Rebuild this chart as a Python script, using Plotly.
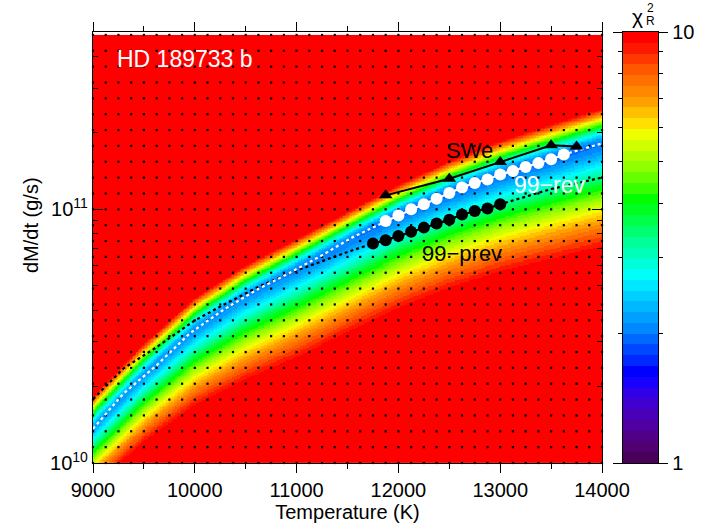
import numpy as np
import plotly.graph_objects as go

FONT = "Liberation Sans, Arial, Helvetica, sans-serif"

# ---- model grid of the fit: 125 K steps in temperature, 16 steps per decade in dM/dt
grid_T = np.arange(9000, 14001, 125)
grid_logM = 10 + np.arange(0, 28) / 16.0

# ---- reduced chi^2 valley: location of the minimum, depth, and distance (dex)
#      above / below the minimum where chi^2_R reaches 10
valley_T = [9000, 9500, 10000, 10500, 11000, 11500, 12000, 12500, 13000, 13500, 14000]
valley_logM = [10.135, 10.343, 10.525, 10.656, 10.762, 10.870, 10.976, 11.064, 11.137, 11.197, 11.255]
valley_chi2 = [2.2, 2.15, 2.1, 2.1, 2.05, 2.0, 1.95, 1.95, 1.95, 1.95, 2.0]
width_above = [0.13, 0.13, 0.128, 0.126, 0.124, 0.122, 0.122, 0.128, 0.134, 0.14, 0.145]
width_below = [0.24, 0.27, 0.31, 0.34, 0.36, 0.37, 0.38, 0.39, 0.40, 0.41, 0.42]

# ---- published solutions (T in K, dM/dt in g/s)
swe_T = [11875, 12500, 13000, 13500, 13750]
swe_M = [1.135e11, 1.32e11, 1.535e11, 1.79e11, 1.77e11]

rev_T = list(range(11875, 13626, 125))
rev_M = [8.99e10, 9.46e10, 1.0e11, 1.047e11, 1.10e11, 1.159e11, 1.219e11, 1.271e11,
         1.312e11, 1.371e11, 1.416e11, 1.469e11, 1.521e11, 1.574e11, 1.644e11]
rev_ext_lo_T = [9000, 9300, 9625, 9950, 10275, 10600, 10925, 11250, 11550]
rev_ext_lo_M = [1.365e10, 1.879e10, 2.427e10, 3.243e10, 4.0e10, 4.797e10, 5.598e10, 6.592e10, 7.762e10]
rev_ext_hi_T = [14000]
rev_ext_hi_M = [1.82e11]

prev_T = list(range(11750, 13001, 125))
prev_M = [7.33e10, 7.55e10, 7.85e10, 8.15e10, 8.47e10, 8.79e10, 9.10e10, 9.55e10,
          9.84e10, 1.007e11, 1.047e11]
prev_ext_lo_T = [9000, 9300, 9625, 10000, 10275, 10600, 10925, 11250, 11500]
prev_ext_lo_M = [1.786e10, 2.36e10, 2.864e10, 3.648e10, 4.188e10, 4.887e10, 5.598e10, 6.266e10, 6.792e10]
prev_ext_hi_T = [13500, 14000]
prev_ext_hi_M = [1.202e11, 1.334e11]

# ---- colour bands of the chi^2_R scale, from 1 (bottom) to 10 (top)
band_colors = [
    "#48005a", "#500070", "#500088", "#5000a0", "#4800b8", "#4000d0", "#3000e8", "#1800ff",
    "#0000ff", "#0028ff", "#0048ff", "#0068ff", "#0088ff", "#00a0ff", "#00b8ff", "#00d0ff",
    "#00e8ff", "#00fff8", "#00ffd8", "#00ffb8", "#00ff98", "#00ff70", "#00ff48", "#00ff20",
    "#00ff00", "#38ff00", "#68ff00", "#90ff00", "#b0ff00", "#d0ff00", "#f0ff00", "#ffe000",
    "#ffc000", "#ffa000", "#ff8800", "#ff7000", "#ff5800", "#ff3800", "#ff1800", "#ff0000",
]
nb = len(band_colors)
colorscale = []
for i, col in enumerate(band_colors):
    colorscale.append([i / nb, col])
    colorscale.append([(i + 1) / nb, col])

# ---- chi^2_R surface over the fitted region
T_edges = np.linspace(9000, 14000, 341)
L_edges = np.linspace(10.0, grid_logM[-1], 301)
Tc = 0.5 * (T_edges[1:] + T_edges[:-1])
Lc = 0.5 * (L_edges[1:] + L_edges[:-1])
centre = np.interp(Tc, valley_T, valley_logM)
cmin = np.interp(Tc, valley_T, valley_chi2)
wa = np.interp(Tc, valley_T, width_above)
wb = np.interp(Tc, valley_T, width_below)
u = Lc[:, None] - centre[None, :]
rise = np.where(u >= 0, (u / wa[None, :]) ** 2, (np.abs(u) / wb[None, :]) ** 1.5)
chi2 = cmin[None, :] + (10.0 - cmin[None, :]) * rise
zlog = np.clip(np.log10(chi2), 0, 1.05)

fig = go.Figure()

fig.add_trace(go.Heatmap(
    x=T_edges, y=10 ** L_edges, z=zlog, zmin=0, zmax=1,
    colorscale=colorscale, showscale=False, hoverinfo="skip",
    xaxis="x", yaxis="y",
))

# model grid points
gT, gL = np.meshgrid(grid_T, grid_logM)
fig.add_trace(go.Scatter(
    x=gT.ravel(), y=10 ** gL.ravel(), mode="markers",
    marker=dict(symbol="square", size=2.2, color="black", line=dict(width=0)),
    cliponaxis=False, hoverinfo="skip", showlegend=False,
))

# dotted extensions of the 99 solutions
fig.add_trace(go.Scatter(
    x=prev_ext_lo_T + prev_T + prev_ext_hi_T, y=prev_ext_lo_M + prev_M + prev_ext_hi_M,
    mode="lines", line=dict(color="black", width=2.2, dash="dot"),
    hoverinfo="skip", showlegend=False,
))
fig.add_trace(go.Scatter(
    x=rev_ext_lo_T + rev_T + rev_ext_hi_T, y=rev_ext_lo_M + rev_M + rev_ext_hi_M,
    mode="lines", line=dict(color="white", width=2.2, dash="dot"),
    hoverinfo="skip", showlegend=False,
))

# 99-prev
fig.add_trace(go.Scatter(
    x=prev_T, y=prev_M, mode="lines+markers",
    line=dict(color="black", width=2),
    marker=dict(symbol="circle", size=12, color="black", line=dict(width=0)),
    hoverinfo="skip", showlegend=False,
))
# 99-rev
fig.add_trace(go.Scatter(
    x=rev_T, y=rev_M, mode="lines+markers",
    line=dict(color="white", width=2),
    marker=dict(symbol="circle", size=12, color="white", line=dict(width=0)),
    hoverinfo="skip", showlegend=False,
))
# SWe
fig.add_trace(go.Scatter(
    x=swe_T, y=swe_M, mode="lines+markers",
    line=dict(color="black", width=2),
    marker=dict(symbol="triangle-up", size=12, color="black", line=dict(width=0)),
    hoverinfo="skip", showlegend=False,
))

# colour scale drawn as its own panel
cb_z = [[(i + 0.5) / nb] for i in range(nb)]
fig.add_trace(go.Heatmap(
    x=[0, 1], y=10 ** (np.arange(nb + 1) / nb), z=cb_z, zmin=0, zmax=1,
    colorscale=colorscale, showscale=False, hoverinfo="skip",
    xaxis="x2", yaxis="y2",
))

x_major = list(range(9000, 14001, 1000))
x_minor = list(range(9500, 14000, 1000))
y_minor = [m * 1e10 for m in range(2, 10)] + [m * 1e11 for m in range(2, 5)]

axis_font = dict(family=FONT, size=20, color="black")

fig.update_layout(
    width=724, height=530,
    margin=dict(l=93, r=66, t=32, b=67),
    paper_bgcolor="white", plot_bgcolor="white",
    font=dict(family=FONT, color="black"),
    showlegend=False,
    xaxis=dict(
        domain=[0, 509 / 565], range=[9000, 14000], anchor="y",
        tickvals=x_major, ticktext=[str(v) for v in x_major],
        ticks="outside", ticklen=9, tickwidth=1.3, tickcolor="black",
        minor=dict(tickvals=x_minor, ticks="outside", ticklen=5, tickwidth=1.3, tickcolor="black"),
        showline=True, linecolor="black", linewidth=1.3, mirror="ticks",
        showgrid=False, zeroline=False, tickfont=axis_font,
        title=dict(text="Temperature (K)", font=axis_font, standoff=0),
    ),
    yaxis=dict(
        type="log", range=[10, 11.699], anchor="x",
        tickvals=[1e10, 1e11], ticktext=["10<sup>10</sup>", "10<sup>11</sup>"],
        ticks="inside", ticklen=10, tickwidth=1.3, tickcolor="black",
        minor=dict(tickvals=y_minor, ticks="inside", ticklen=5, tickwidth=1.3, tickcolor="black"),
        showline=True, linecolor="black", linewidth=1.3, mirror="ticks",
        showgrid=False, zeroline=False, tickfont=axis_font,
    ),
    xaxis2=dict(
        domain=[530 / 565, 1], range=[0, 1], anchor="y2",
        showticklabels=False, ticks="", showgrid=False, zeroline=False,
        showline=True, linecolor="black", linewidth=1.3, mirror=True,
    ),
    yaxis2=dict(
        type="log", range=[0, 1], anchor="x2", side="right",
        tickvals=[1, 10], ticktext=["1", "10"],
        ticks="outside", ticklen=9, tickwidth=1.3, tickcolor="black",
        minor=dict(tickvals=list(range(2, 10)), ticks="outside", ticklen=4, tickwidth=1.3, tickcolor="black"),
        showline=True, linecolor="black", linewidth=1.3, mirror="ticks",
        showgrid=False, zeroline=False, tickfont=axis_font,
    ),
)

annotations = [
    dict(text="HD 189733 b", x=9216, y=np.log10(5.0e11) - 0.105, xref="x", yref="y",
         xanchor="left", yanchor="middle", showarrow=False,
         font=dict(family=FONT, size=23, color="white")),
    dict(text="SWe", x=12700, y=11.232, xref="x", yref="y", showarrow=False,
         xanchor="center", yanchor="middle", font=dict(family=FONT, size=22, color="black")),
    dict(text="99\u2212rev", x=13485, y=11.094, xref="x", yref="y", showarrow=False,
         xanchor="center", yanchor="middle", font=dict(family=FONT, size=23, color="white")),
    dict(text="99\u2212prev", x=12620, y=10.827, xref="x", yref="y", showarrow=False,
         xanchor="center", yanchor="middle", font=dict(family=FONT, size=22, color="black")),
    dict(text="dM/dt (g/s)", x=-62 / 565, y=(463 - 225) / 431, xref="paper", yref="paper",
         textangle=-90, showarrow=False, xanchor="center", yanchor="middle",
         font=dict(family=FONT, size=20, color="black")),
    # chi^2_R title of the colour scale
    dict(text="\u03c7", x=(637 - 93) / 565, y=(463 - 17) / 431, xref="paper", yref="paper",
         showarrow=False, xanchor="center", yanchor="middle",
         font=dict(family=FONT, size=21, color="black")),
    dict(text="2", x=(650 - 93) / 565, y=(463 - 8) / 431, xref="paper", yref="paper",
         showarrow=False, xanchor="center", yanchor="middle",
         font=dict(family=FONT, size=12, color="black")),
    dict(text="R", x=(650 - 93) / 565, y=(463 - 21) / 431, xref="paper", yref="paper",
         showarrow=False, xanchor="center", yanchor="middle",
         font=dict(family=FONT, size=12, color="black")),
]
fig.update_layout(annotations=annotations)

fig.write_html("out.html")
